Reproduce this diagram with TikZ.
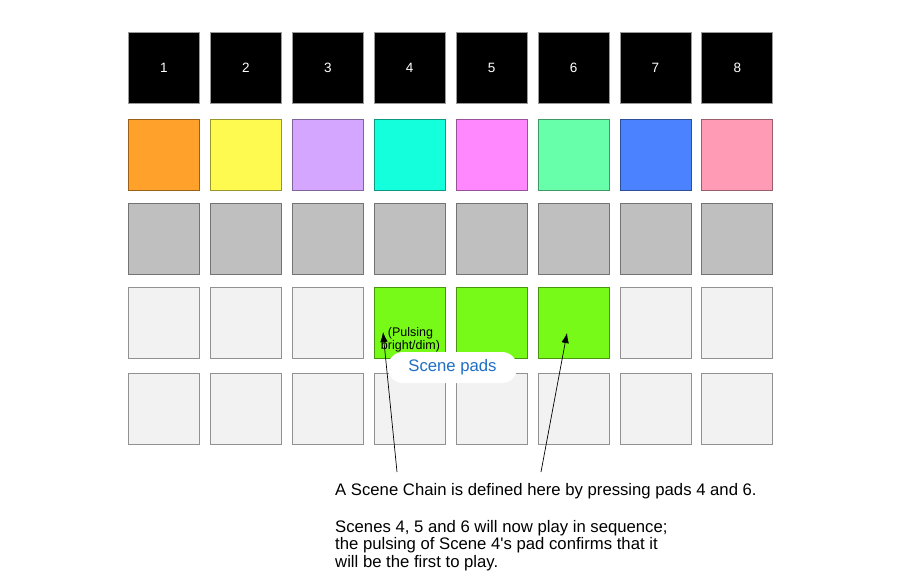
\documentclass[tikz,border=0pt]{standalone}
\usepackage{fontspec}
\newfontfamily\padfont{Liberation Sans}
\usetikzlibrary{arrows.meta}
\definecolor{padorange}{RGB}{255,161,42}
\definecolor{padyellow}{RGB}{255,250,80}
\definecolor{padpurple}{RGB}{212,166,255}
\definecolor{padcyan}{RGB}{20,255,220}
\definecolor{padmagenta}{RGB}{255,136,255}
\definecolor{padmint}{RGB}{104,255,170}
\definecolor{padblue}{RGB}{75,130,255}
\definecolor{padpink}{RGB}{255,155,180}
\definecolor{padgray}{RGB}{191,191,191}
\definecolor{padlight}{RGB}{242,242,242}
\definecolor{padgreen}{RGB}{120,250,25}
\definecolor{sceneblue}{RGB}{30,111,196}
\begin{document}
\padfont
\begin{tikzpicture}[x=1pt,y=-1pt,
		pad/.style={draw=#1!60!black, fill=#1, line width=0.8pt, minimum size=71pt, inner sep=0pt},
		note/.style={anchor=base west, align=left, inner sep=0pt, font=\fontsize{16.7}{17.8}\selectfont},
		pointer/.style={-{Latex[length=10pt,width=7.5pt]}, line width=0.7pt}]
	\useasboundingbox (0,0) rectangle (923,588);
	% track buttons
	\foreach \n in {1,...,8}
		\node[pad=black, draw=gray!80, text=white, text height=9.5pt, text depth=0pt, font=\fontsize{13.5}{13.5}\selectfont] (track\n) at ({164+81.9*(\n-1)},67.5) {\n};
	% clip rows
	\foreach \n/\c in {1/padorange,2/padyellow,3/padpurple,4/padcyan,5/padmagenta,6/padmint,7/padblue,8/padpink}
		\node[pad=\c] (colour\n) at ({164+81.9*(\n-1)},155) {};
	\foreach \n in {1,...,8}
		\node[pad=padgray] (muted\n) at ({164+81.9*(\n-1)},239) {};
	\foreach \n/\c in {1/padlight,2/padlight,3/padlight,4/padgreen,5/padgreen,6/padgreen,7/padlight,8/padlight}
		\node[pad=\c] (scene\n) at ({164+81.9*(\n-1)},323) {};
	\foreach \n in {1,...,8}
		\node[pad=padlight] (empty\n) at ({164+81.9*(\n-1)},408.5) {};
	% labels
	\node[fill=white, rounded corners=15pt, minimum width=129pt, minimum height=31pt, text=sceneblue, font=\fontsize{16.7}{17}\selectfont] (scenelabel) at (452.5,367.5) {Scene pads};
	\node[align=center, inner sep=0pt, font=\fontsize{12.5}{13}\selectfont] (pulselabel) at (410.5,339.5) {(Pulsing\\bright/dim)};
	% pointers
	\coordinate (tail4) at (397,472);
	\coordinate (tip4) at (383,332);
	\coordinate (tail6) at (541,472);
	\coordinate (tip6) at (567,333);
	\draw[pointer] (tail4) -- (tip4);
	\draw[pointer] (tail6) -- (tip6);
	\node[note] (chainnote) at (335,495.7) {A Scene Chain is defined here by pressing pads 4 and 6.};
	\node[note] (sequencenote) at (335,567.7) {Scenes 4, 5 and 6 will now play in sequence;\\the pulsing of Scene 4's pad confirms that it\\will be the first to play.};
\end{tikzpicture}
\end{document}
